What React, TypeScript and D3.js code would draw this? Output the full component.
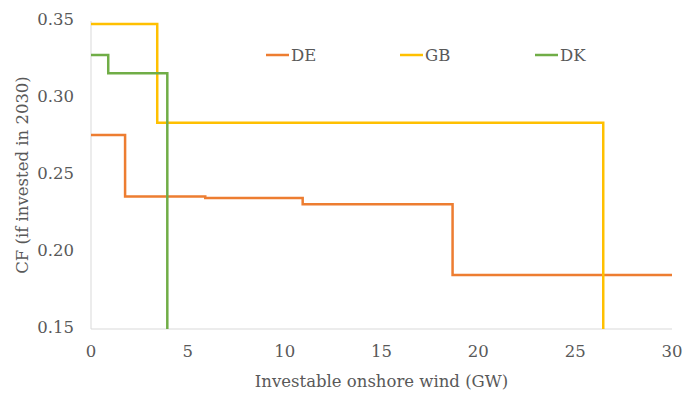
import React from "react";
import * as d3 from "d3";

const W = 683;
const H = 393;

// step breakpoints (GW, capacity factor)
const deX = [0, 1.76, 5.9, 10.93, 18.67, 30];
const deY = [0.276, 0.236, 0.235, 0.231, 0.185, 0.185];
const gbX = [0, 3.42, 26.45];
const gbY = [0.348, 0.284, 0.15];
const dkX = [0, 0.89, 3.94];
const dkY = [0.328, 0.316, 0.15];

const xTicks = [0, 5, 10, 15, 20, 25, 30];
const yTicks = [0.15, 0.2, 0.25, 0.3, 0.35];

const seriesNames = ["DE", "GB", "DK"];
const seriesColors = ["#ED7D31", "#FFC000", "#70AD47"];

const textStyle = {
	fontFamily: "'DejaVu Serif', 'Times New Roman', Times, serif",
	fontSize: 16.5,
	fill: "#595959",
};

const App = () => {
	const margin = { left: 91, right: 11, top: 21, bottom: 64 };

	const xScale = d3.scaleLinear().domain([0, 30]).range([margin.left, W - margin.right]);
	const yScale = d3.scaleLinear().domain([0.15, 0.35]).range([H - margin.bottom, margin.top]);

	const makePath = (xs: number[], ys: number[]) =>
		d3.line<[number, number]>()
			.x(d => xScale(d[0]))
			.y(d => yScale(d[1]))
			.curve(d3.curveStepAfter)(xs.map((x, i) => [x, ys[i]]));

	const series = [
		{ name: seriesNames[0], color: seriesColors[0], d: makePath(deX, deY) },
		{ name: seriesNames[1], color: seriesColors[1], d: makePath(gbX, gbY) },
		{ name: seriesNames[2], color: seriesColors[2], d: makePath(dkX, dkY) },
	];

	const y0 = yScale(0.15);
	const legendX = [266, 400, 535];

	return (
		<svg width={W} height={H} style={{ position: "fixed", left: 0, top: 0, background: "#fff" }}>
			{/* axes lines */}
			<line x1={xScale(0)} x2={xScale(0)} y1={yScale(0.35)} y2={y0} stroke="#d9d9d9" strokeWidth={1} />
			<line x1={xScale(0)} x2={xScale(30)} y1={y0} y2={y0} stroke="#d9d9d9" strokeWidth={1} />

			{yTicks.map(t => (
				<text key={t} x={xScale(0) - 17} y={yScale(t) - 1} textAnchor="end" dominantBaseline="middle"
					style={textStyle}>{t.toFixed(2)}</text>
			))}
			{xTicks.map(t => (
				<text key={t} x={xScale(t)} y={y0 + 23} textAnchor="middle" dominantBaseline="middle"
					style={textStyle}>{t}</text>
			))}

			{series.map(s => (
				<path key={s.name} d={s.d ?? ""} fill="none" stroke={s.color} strokeWidth={2.5} />
			))}

			{/* legend */}
			{series.map((s, i) => (
				<g key={s.name}>
					<line x1={legendX[i]} x2={legendX[i] + 23} y1={55} y2={55} stroke={s.color} strokeWidth={2.5} />
					<text x={legendX[i] + 25} y={56} dominantBaseline="middle" style={textStyle}>{s.name}</text>
				</g>
			))}

			<text x={(xScale(0) + xScale(30)) / 2} y={382} textAnchor="middle" dominantBaseline="middle"
				style={textStyle}>Investable onshore wind (GW)</text>
			<text transform={`translate(23, ${(yScale(0.15) + yScale(0.35)) / 2}) rotate(-90)`} textAnchor="middle"
				dominantBaseline="middle" style={textStyle}>CF (if invested in 2030)</text>
		</svg>
	);
};

export default App;
